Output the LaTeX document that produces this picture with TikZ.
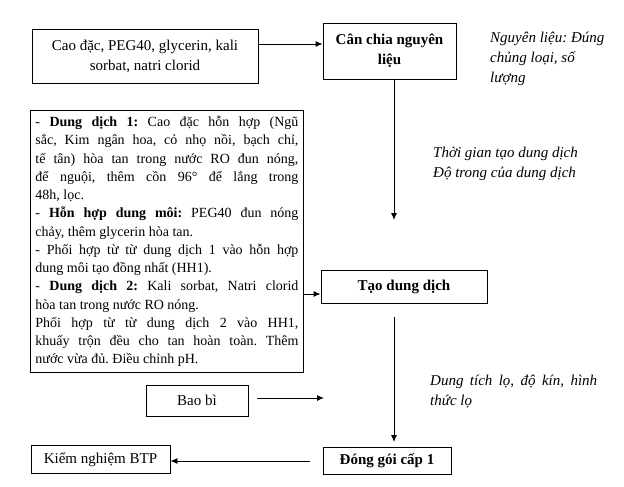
\documentclass[tikz,border=0pt]{standalone}
\usepackage{fontspec}
\setmainfont{Liberation Serif}
\usetikzlibrary{arrows.meta,calc}
\begin{document}
\frenchspacing
\begin{tikzpicture}[x=1pt,y=-1pt,
  box/.style={draw, line width=0.9pt, inner sep=0pt, align=center, font=\fontsize{15}{20}\selectfont},
  boldbox/.style={box, font=\fontsize{15}{20}\selectfont\bfseries},
  note/.style={inner sep=0pt, anchor=west, align=left, font=\fontsize{15}{20}\selectfont\itshape},
  arr/.style={line width=0.9pt, -{Latex[length=7pt,width=6pt]}}]
\useasboundingbox (0,0) rectangle (624,487);
% top row
\node[box, minimum width=226pt, minimum height=54pt] (raw) at (145,56) {Cao đặc, PEG40, glycerin, kali\\sorbat, natri clorid};
\node[boldbox, minimum width=133pt, minimum height=56pt] (can) at (389.5,51) {Cân chia nguyên\\liệu};
\node[note] (cannote) at (490,59) {Nguyên liệu: Đúng\\chủng loại, số\\lượng};
\coordinate (a0) at (0,44);
\draw[arr] (raw.east |- a0) -- (can.west |- a0);
% first vertical
\coordinate (t1) at (394,220);
\draw[arr] (can.south -| t1) -- (t1);
\node[note] (taonote) at (433,164) {Thời gian tạo dung dịch\\Độ trong của dung dịch};
% process box
\node[draw, line width=0.9pt, anchor=north west, text width=263pt, inner xsep=5pt, inner ysep=3pt, minimum height=262pt, align=justify, font=\fontsize{14}{18.25}\selectfont] (proc) at (30,110) {\hyphenpenalty=10000\exhyphenpenalty=10000
- \textbf{Dung dịch 1:} Cao đặc hỗn hợp (Ngũ\linebreak sắc, Kim ngân hoa, cỏ nhọ nồi, bạch chỉ,\linebreak tế tân) hòa tan trong nước RO đun nóng,\linebreak để nguội, thêm cồn 96° để lắng trong\linebreak 48h, lọc.\\
- \textbf{Hỗn hợp dung môi:} PEG40 đun nóng\linebreak chảy, thêm glycerin hòa tan.\\
- Phối hợp từ từ dung dịch 1 vào hỗn hợp\linebreak dung môi tạo đồng nhất (HH1).\\
- \textbf{Dung dịch 2:} Kali sorbat, Natri clorid\linebreak hòa tan trong nước RO nóng.\\
Phối hợp từ từ dung dịch 2 vào HH1,\linebreak khuấy trộn đều cho tan hoàn toàn. Thêm\linebreak nước vừa đủ. Điều chỉnh pH.};
\node[boldbox, minimum width=166pt, minimum height=33pt] (tao) at (404,286.5) {Tạo dung dịch};
\coordinate (c2) at (0,294);
\draw[arr] (proc.east |- c2) -- (tao.west |- c2);
% second vertical
\coordinate (s2) at (394,317);
\coordinate (t2) at (394,442);
\draw[arr] (s2) -- (t2);
\node[note, text width=167pt, align=justify] (dongnote) at (430,392) {Dung tích lọ, độ kín, hình\linebreak thức lọ};
% bottom
\node[box, minimum width=102pt, minimum height=31pt] (bao) at (197,400.5) {Bao bì};
\coordinate (b1) at (257,398);
\coordinate (b2) at (324,398);
\draw[arr] (b1) -- (b2);
\node[boldbox, minimum width=128pt, minimum height=27pt] (dong) at (387,460.5) {Đóng gói cấp 1};
\node[box, minimum width=139pt, minimum height=28pt] (kiem) at (100.5,459.5) {\raisebox{-1pt}{Kiểm nghiệm BTP}};
\coordinate (k1) at (310,461);
\draw[arr] (k1) -- (kiem.east |- k1);
\end{tikzpicture}
\end{document}
